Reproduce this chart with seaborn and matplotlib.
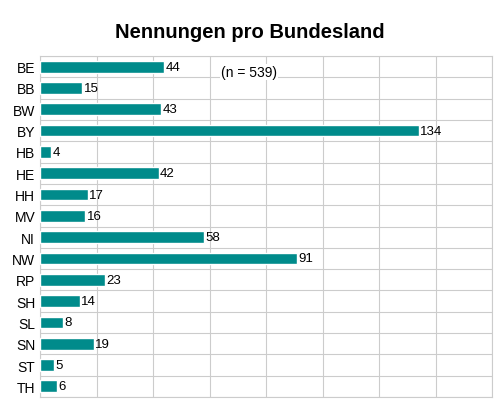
import matplotlib
matplotlib.use("Agg")
import matplotlib.pyplot as plt
import seaborn as sns
import pandas as pd

states = ["BE","BB","BW","BY","HB","HE","HH","MV","NI","NW","RP","SH","SL","SN","ST","TH"]
counts = [44,15,43,134,4,42,17,16,58,91,23,14,8,19,5,6]
df = pd.DataFrame({"state": states, "n": counts})

sns.set_style("white")
plt.rcParams['font.family'] = ['Liberation Sans', 'DejaVu Sans']
plt.rcParams['text.color'] = 'black'
fig = plt.figure(figsize=(5.01, 4.06), dpi=100)
ax = fig.add_axes([40/501, 8/406, 452/501, 341/406])
sns.barplot(data=df, y="state", x="n", color="#008b8b", saturation=1, width=0.55, ax=ax, orient="h", zorder=3)
ax.set_xlim(0, 160)
ax.set_ylim(15.5, -0.5)
ax.set_xticks(range(0, 161, 20))
ax.set_xticklabels([])
ax.set_yticks([i + 0.5 for i in range(-1, 16)], minor=True)
ax.tick_params(axis="x", length=0)
ax.tick_params(axis="y", which="both", length=0, labelsize=10, labelcolor="black")
ax.grid(True, axis="x", color="#cccccc", lw=0.8, zorder=0)
ax.grid(True, axis="y", which="minor", color="#cccccc", lw=0.8, zorder=0)
ax.grid(False, axis="y", which="major")
for s in ax.spines.values():
    s.set_color("#cccccc")
ax.set_xlabel(""); ax.set_ylabel("")
for i, v in enumerate(counts):
    ax.text(v + 0.5, i, str(v), va="center", ha="left", fontsize=9.5, color="black", zorder=4)
ax.text(74, 0.25, "(n = 539)", ha="center", va="center", fontsize=10, color="black",
        bbox=dict(facecolor="white", edgecolor="none", pad=1), zorder=5)
fig.text(250/501, 1 - 32/406, "Nennungen pro Bundesland", ha="center", va="center",
         fontsize=14.5, fontweight="bold", color="black")
fig.savefig("out.png", dpi=100)
